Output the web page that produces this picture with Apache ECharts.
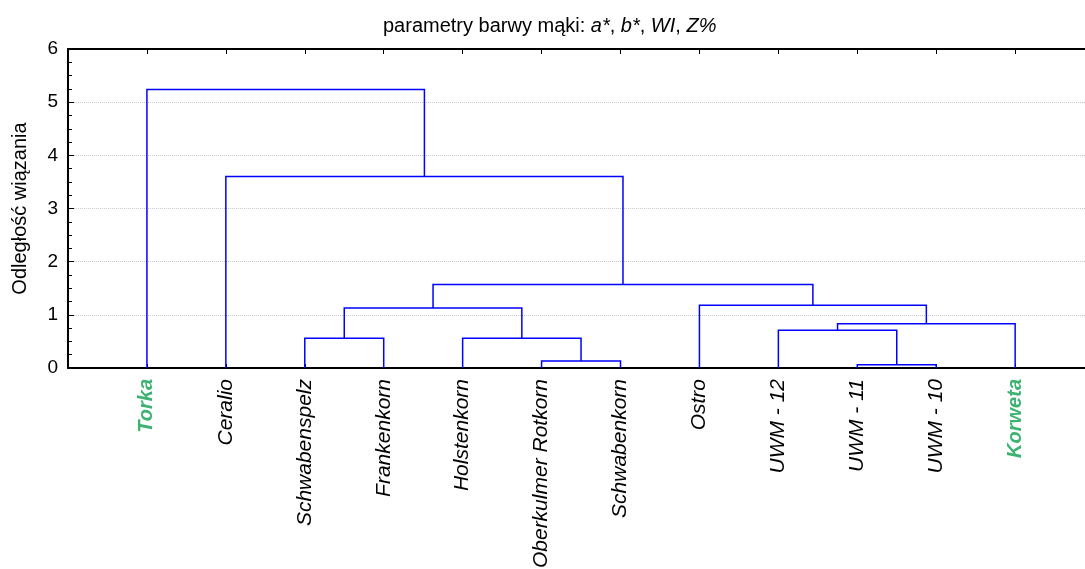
<!DOCTYPE html>
<html>
<head>
<meta charset="utf-8">
<script src="https://cdn.jsdelivr.net/npm/echarts@6/dist/echarts.min.js"></script>
<style>
    html, body { margin: 0; padding: 0; background: #fff; }
    #chart { width: 1085px; height: 569px; }
</style>
</head>
<body>
<div id="chart"></div>
<script>
// leaves, left to right
const leaves = ['Torka', 'Ceralio', 'Schwabenspelz', 'Frankenkorn', 'Holstenkorn',
    'Oberkulmer Rotkorn', 'Schwabenkorn', 'Ostro', 'UWM - 12', 'UWM - 11', 'UWM - 10', 'Korweta'];
const highlighted = ['Torka', 'Korweta'];

// merges: [left, right, linkage distance]; ids < 12 are leaves, 12+k is the k-th merge
const merges = [
    [9, 10, 0.06],   // 12
    [5, 6, 0.13],    // 13
    [2, 3, 0.56],    // 14
    [4, 13, 0.56],   // 15
    [8, 12, 0.71],   // 16
    [16, 11, 0.83],  // 17
    [14, 15, 1.13],  // 18
    [7, 17, 1.18],   // 19
    [18, 19, 1.57],  // 20
    [1, 20, 3.60],   // 21
    [0, 21, 5.24],   // 22
];

const yTicks = [0, 1, 2, 3, 4, 5, 6];

// node positions: leaves sit at 1..n, a merge at the middle of its two children
const nodeX = leaves.map((_, i) => i + 1);
const nodeY = leaves.map(_ => 0);
const links = merges.map(([a, b, h]) => {
    nodeX.push((nodeX[a] + nodeX[b]) / 2);
    nodeY.push(h);
    return {
        coords: [[nodeX[a], nodeY[a]], [nodeX[a], h], [nodeX[b], h], [nodeX[b], nodeY[b]]],
    };
});

const font = 'Liberation Sans, Arial, sans-serif';
const xMax = 12.885;

const chart = echarts.init(document.getElementById('chart'));
chart.setOption({
    animation: false,
    textStyle: { fontFamily: font },
    title: {
        text: 'parametry barwy mąki: {i|a*}, {i|b*}, {i|WI}, {i|Z%}',
        left: 378,
        top: 11,
        textStyle: {
            fontFamily: font,
            fontSize: 20,
            fontWeight: 'normal',
            color: '#000',
            rich: {
                i: { fontFamily: font, fontSize: 20, fontStyle: 'italic', color: '#000' },
            },
        },
    },
    grid: { left: 68, right: 0, top: 49, bottom: 201, containLabel: false, outerBoundsMode: 'none' },
    xAxis: [
        {
            type: 'value',
            min: 0,
            max: xMax,
            interval: 1,
            position: 'bottom',
            axisLine: { onZero: false, lineStyle: { color: '#000', width: 2 } },
            axisTick: { inside: true, length: 4, lineStyle: { color: '#000' } },
            splitLine: { show: false },
            axisLabel: {
                rotate: 90,
                margin: 11,
                showMinLabel: false,
                showMaxLabel: false,
                formatter: v => {
                    const name = leaves[Math.round(v) - 1];
                    if (!name || Math.abs(v - Math.round(v)) > 1e-6) return '';
                    return highlighted.includes(name) ? `{g|${name}}` : `{n|${name}}`;
                },
                rich: {
                    n: { fontFamily: font, fontSize: 21, fontStyle: 'italic', color: '#000' },
                    g: { fontFamily: font, fontSize: 20, fontStyle: 'italic', fontWeight: 'bold', color: '#3cb371' },
                },
            },
        },
        {
            type: 'value',
            min: 0,
            max: xMax,
            interval: 1,
            position: 'top',
            axisLine: { onZero: false, lineStyle: { color: '#000', width: 2 } },
            axisTick: { inside: true, length: 5, lineStyle: { color: '#000' } },
            axisLabel: { show: false },
            splitLine: { show: false },
        },
    ],
    yAxis: {
        type: 'value',
        min: yTicks[0],
        max: yTicks[yTicks.length - 1],
        interval: 1,
        name: 'Odległość wiązania',
        nameLocation: 'middle',
        nameGap: 38,
        nameTextStyle: { fontFamily: font, fontSize: 20, color: '#000' },
        axisLine: { show: true, onZero: false, lineStyle: { color: '#000', width: 2 } },
        axisTick: { inside: true, length: 6, lineStyle: { color: '#000' } },
        minorTick: { show: true, splitNumber: 4, length: 4, lineStyle: { color: '#000' } },
        axisLabel: { fontFamily: font, fontSize: 19, color: '#000', margin: 10 },
        splitLine: { show: true, lineStyle: { color: '#c8c8c8', type: [1, 1], width: 1 } },
    },
    series: [
        {
            type: 'lines',
            coordinateSystem: 'cartesian2d',
            polyline: true,
            silent: true,
            lineStyle: { color: '#0000ff', width: 1.5, opacity: 1 },
            data: links,
        },
    ],
});
</script>
</body>
</html>
